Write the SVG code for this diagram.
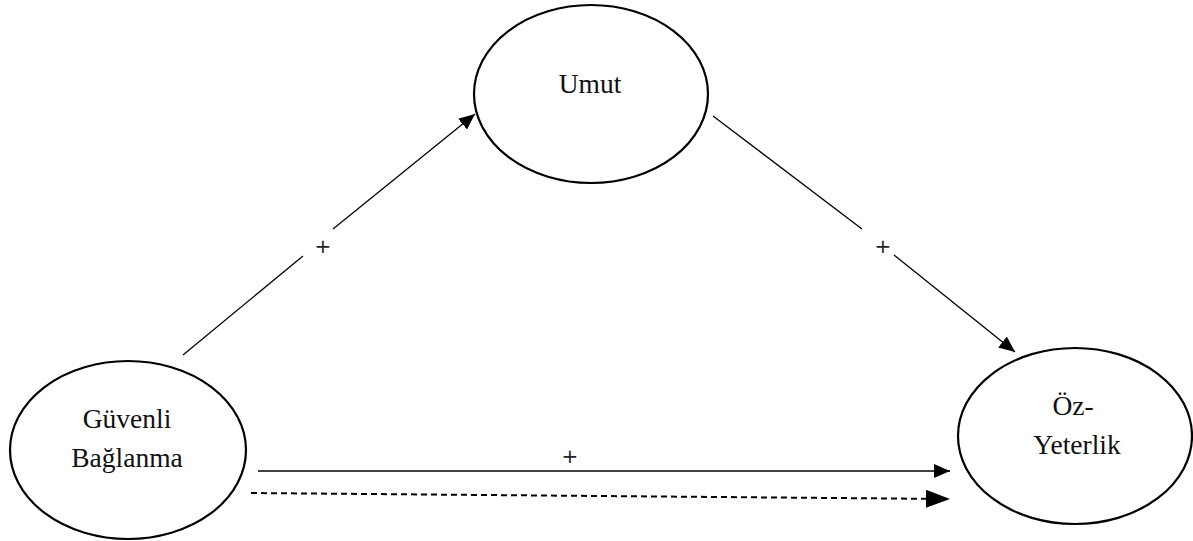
<svg xmlns="http://www.w3.org/2000/svg" width="1193" height="541" viewBox="0 0 1193 541">
<style>
.node{fill:#fff;stroke:#000;stroke-width:2.2}
.lbl{font-family:"Liberation Serif","Times New Roman",serif;font-size:27.5px;fill:#111;text-anchor:middle}
.edge{fill:none;stroke:#000;stroke-width:1.3}
.dash{fill:none;stroke:#000;stroke-width:2;stroke-dasharray:6,4}
.sign{font-family:"DejaVu Sans",sans-serif;font-size:20px;fill:#222;text-anchor:middle}
</style>
<defs>
<marker id="ah" markerUnits="userSpaceOnUse" markerWidth="18" markerHeight="14" refX="16" refY="7" orient="auto">
<path d="M0,0 L16,7 L0,14 Z" fill="#000"/>
</marker>
<marker id="ahd" markerUnits="userSpaceOnUse" markerWidth="26" markerHeight="18" refX="24" refY="9" orient="auto">
<path d="M0,0 L24,9 L0,18 Z" fill="#000"/>
</marker>
</defs>
<rect width="1193" height="541" fill="#fff"/>
<g id="connectors">
<path class="edge" d="M183,355 L303,256"/>
<path class="edge" d="M333,229 L475,114" marker-end="url(#ah)"/>
<path class="edge" d="M713,116 L862,229"/>
<path class="edge" d="M894,255 L1015,352" marker-end="url(#ah)"/>
<path class="edge" d="M258,471 L950,471" marker-end="url(#ah)"/>
<path class="dash" d="M251,493 L950,499" marker-end="url(#ahd)"/>
<text class="sign" x="323" y="253">+</text>
<text class="sign" x="883" y="253">+</text>
<text class="sign" x="570" y="463">+</text>
</g>
<g id="umut">
<ellipse class="node" cx="591" cy="94" rx="117" ry="89"/>
<text class="lbl" x="590" y="93">Umut</text>
</g>
<g id="guvenli-baglanma">
<ellipse class="node" cx="128" cy="450" rx="118" ry="89"/>
<text class="lbl" x="127" y="428">Güvenli</text>
<text class="lbl" x="127" y="467">Bağlanma</text>
</g>
<g id="oz-yeterlik">
<ellipse class="node" cx="1075" cy="436" rx="117" ry="88"/>
<text class="lbl" x="1073" y="415">Öz-</text>
<text class="lbl" x="1077" y="454">Yeterlik</text>
</g>
</svg>
